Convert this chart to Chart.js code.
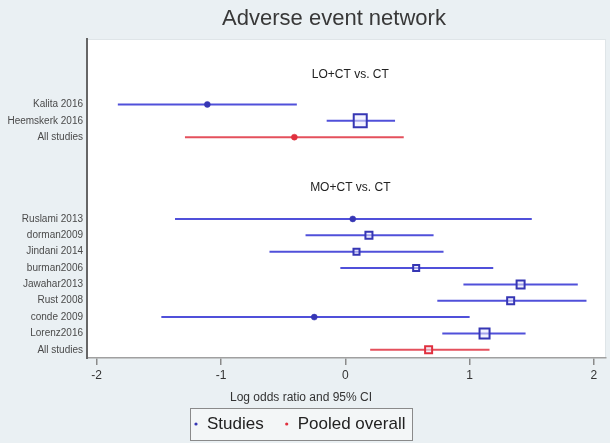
<!DOCTYPE html>
<html>
<head>
<meta charset="utf-8">
<script src="https://cdn.jsdelivr.net/npm/chart.js@4"></script>
<style>
  html, body { margin: 0; padding: 0; background: #eaf0f3; overflow: hidden; }
  canvas { display: block; }
</style>
</head>
<body>
<canvas id="c" width="610" height="443" style="width:610px;height:443px"></canvas>
<script>
// ---- data ----
const chartTitle = 'Adverse event network';
const xAxisTitle = 'Log odds ratio and 95% CI';
const groupLabels = ['LO+CT vs. CT', 'MO+CT vs. CT'];
const groupRows = [-1.8, 5.1];
const studyLabels = ['Kalita 2016', 'Heemskerk 2016', 'All studies',
  'Ruslami 2013', 'dorman2009', 'Jindani 2014', 'burman2006', 'Jawahar2013',
  'Rust 2008', 'conde 2009', 'Lorenz2016', 'All studies'];
const studyRows = [0, 1, 2, 7, 8, 9, 10, 11, 12, 13, 14, 15];
const estimates = [-1.11, 0.12, -0.41, 0.06, 0.19, 0.09, 0.57, 1.41, 1.33, -0.25, 1.12, 0.67];
const lowerCI   = [-1.83, -0.15, -1.29, -1.37, -0.32, -0.61, -0.04, 0.95, 0.74, -1.48, 0.78, 0.20];
const upperCI   = [-0.39, 0.40, 0.47, 1.50, 0.71, 0.79, 1.19, 1.87, 1.94, 1.00, 1.45, 1.16];
const weights   = [5, 93, 5, 5, 27, 20, 20, 35, 27, 5, 55, 27];
const isPooled  = [false, false, true, false, false, false, false, false, false, false, false, true];
const xTicks = [-2, -1, 0, 1, 2];
const legendLabels = ['Studies', 'Pooled overall'];

// ---- styles ----
const FONT = 'Liberation Sans, Arial, Helvetica, sans-serif';
const BLUE_LINE = '#5050da';
const BLUE_MARK = '#3636b4';
const RED_LINE = '#e4505c';
const RED_MARK = '#e0303e';
const legendColors = [BLUE_MARK, RED_MARK];

const lineDatasets = studyRows.map((r, i) => ({
  type: 'line',
  data: [{x: lowerCI[i], y: r}, {x: upperCI[i], y: r}],
  borderColor: isPooled[i] ? RED_LINE : BLUE_LINE,
  borderWidth: 2,
  pointRadius: 0,
  fill: false,
  order: 2
}));

const sides = weights.map(w => 1.35 * Math.sqrt(w));
const markerDataset = {
  type: 'scatter',
  data: studyRows.map((r, i) => ({x: estimates[i], y: r})),
  pointStyle: sides.map(s => s < 4 ? 'circle' : 'rect'),
  pointRadius: sides.map(s => s < 4 ? 3 : s / Math.SQRT2),
  pointBackgroundColor: sides.map((s, i) => s < 4 ? (isPooled[i] ? RED_MARK : BLUE_MARK) : 'rgba(235,235,255,0.55)'),
  pointBorderColor: isPooled.map(p => p ? RED_MARK : BLUE_MARK),
  pointBorderWidth: sides.map(s => s < 4 ? 0.5 : 2),
  order: 1
};

const decor = {
  id: 'decor',
  beforeDraw(chart) {
    const {ctx, chartArea: a} = chart;
    ctx.save();
    ctx.fillStyle = '#eaf0f3';
    ctx.fillRect(0, 0, chart.width, chart.height);
    ctx.fillStyle = '#ffffff';
    ctx.fillRect(a.left, a.top, a.right - a.left, a.bottom - a.top);
    ctx.strokeStyle = '#dfe5e8';
    ctx.lineWidth = 1;
    ctx.strokeRect(a.left + 0.5, a.top + 0.5, a.right - a.left - 1, a.bottom - a.top - 1);
    ctx.restore();
  },
  afterDraw(chart) {
    const {ctx, scales: {x, y}} = chart;
    ctx.save();
    // title
    ctx.fillStyle = '#383838';
    ctx.font = '22px ' + FONT;
    ctx.textAlign = 'center';
    ctx.textBaseline = 'middle';
    ctx.fillText(chartTitle, 334, 19);
    // group headers
    ctx.font = '12px ' + FONT;
    ctx.fillStyle = '#222';
    groupLabels.forEach((g, i) => {
      ctx.fillText(g, x.getPixelForValue(0.04), y.getPixelForValue(groupRows[i]));
    });
    // x-axis title
    ctx.font = '12px ' + FONT;
    ctx.fillStyle = '#333';
    ctx.fillText(xAxisTitle, 301, 398);
    // legend
    const bx = 190, by = 408, bw = 222, bh = 32;
    ctx.fillStyle = '#f3f6f7';
    ctx.fillRect(bx, by, bw, bh);
    ctx.strokeStyle = '#8a8a8a';
    ctx.lineWidth = 1;
    ctx.strokeRect(bx + 0.5, by + 0.5, bw, bh);
    ctx.font = '17px ' + FONT;
    ctx.textAlign = 'left';
    const cy = by + bh / 2;
    let cx = bx + 6;
    legendLabels.forEach((lab, i) => {
      ctx.fillStyle = legendColors[i];
      ctx.beginPath();
      ctx.arc(cx, cy, 1.6, 0, Math.PI * 2);
      ctx.fill();
      ctx.fillStyle = '#222';
      ctx.fillText(lab, cx + 11, cy);
      cx += 11 + ctx.measureText(lab).width + 23;
    });
    ctx.restore();
  }
};

new Chart(document.getElementById('c'), {
  data: { datasets: [markerDataset, ...lineDatasets] },
  options: {
    responsive: false,
    animation: false,
    layout: { autoPadding: false, padding: { top: 39, right: 4, bottom: 0, left: 0 } },
    plugins: { legend: { display: false }, tooltip: { enabled: false }, title: { display: false } },
    scales: {
      x: {
        type: 'linear',
        position: 'bottom',
        min: -2.078,
        max: 2.097,
        afterBuildTicks: s => { s.ticks = xTicks.map(v => ({value: v})); },
        afterFit: s => { s.height = 85; s.paddingLeft = 0; s.paddingRight = 0; },
        grid: { display: true, drawOnChartArea: false, drawTicks: true, tickLength: 7, color: '#8a8a8a', lineWidth: 1.5 },
        border: { display: true, color: '#a0a0a0', width: 1.5 },
        ticks: { font: { family: FONT, size: 12 }, color: '#333', padding: 3, maxRotation: 0,
                 callback: v => String(v) }
      },
      y: {
        type: 'linear',
        position: 'left',
        reverse: true,
        min: -4,
        max: 15.5,
        afterBuildTicks: s => { s.ticks = studyRows.map(v => ({value: v})); },
        afterFit: s => { s.width = 87; s.paddingTop = 0; s.paddingBottom = 0; },
        grid: { display: true, drawOnChartArea: false, drawTicks: false, tickLength: 0 },
        border: { display: true, color: '#666', width: 2 },
        ticks: { autoSkip: false, font: { family: FONT, size: 10 }, color: '#4a4a4a', padding: 4,
                 callback: (v, i) => studyLabels[i] }
      }
    }
  },
  plugins: [decor]
});
</script>
</body>
</html>
